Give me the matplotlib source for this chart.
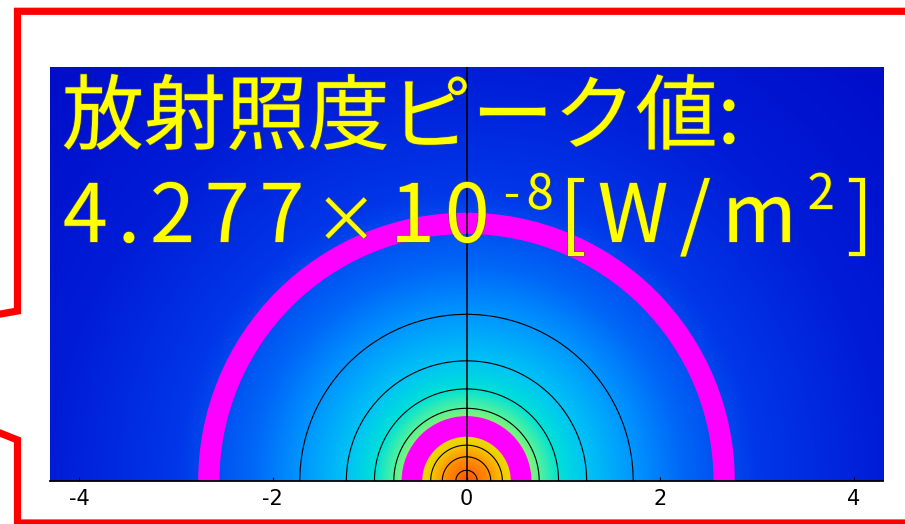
import numpy as np
import matplotlib.pyplot as plt
from matplotlib.colors import LinearSegmentedColormap
from matplotlib.patches import Wedge
from matplotlib.lines import Line2D
import matplotlib.patheffects as pe

W, H = 905, 524

peak = 4.277e-8  # peak irradiance [W/m^2]

# radial irradiance profile (distance from axis, fraction of peak)
prof_r = [0.0, 0.11, 0.25, 0.37, 0.48, 0.60, 0.75, 0.95, 1.24, 1.72, 2.2, 3.0, 4.3, 6.2]
prof_v = [1.0, 0.9, 0.8, 0.7, 0.6, 0.5, 0.4, 0.3, 0.2, 0.1, 0.055, 0.024, 0.0086, 0.003]

# iso-irradiance lines, fraction of peak
contour_levels = [0.1, 0.2, 0.3, 0.4, 0.5, 0.6, 0.7, 0.8, 0.9]

# detector rings: (inner radius, outer radius)
rings = [(0.457, 0.67), (2.55, 2.77)]

xticks = [-4, -2, 0, 2, 4]
title = "放射照度ピーク値:"

# rainbow scale, stops placed on the profile fractions
stops = [
    (0.0, (0, 5, 190)),
    (0.003, (0, 12, 200)),
    (0.0086, (0, 28, 215)),
    (0.024, (0, 55, 232)),
    (0.055, (0, 105, 248)),
    (0.1, (0, 150, 255)),
    (0.2, (0, 195, 245)),
    (0.3, (0, 225, 215)),
    (0.4, (85, 242, 155)),
    (0.5, (165, 245, 85)),
    (0.6, (225, 228, 0)),
    (0.7, (245, 200, 0)),
    (0.8, (255, 150, 0)),
    (0.9, (255, 112, 0)),
    (1.0, (250, 85, 5)),
]
cmap = LinearSegmentedColormap.from_list(
    "irr", [(p, tuple(c / 255 for c in col)) for p, col in stops], N=4096)

fig = plt.figure(figsize=(W / 100, H / 100), dpi=100)
ax = fig.add_axes([50 / W, 43 / H, 833 / W, 414 / H])
xmax = 4.3
ymax = 414 / (833 / (2 * xmax))

x = np.linspace(-xmax, xmax, 1400)
y = np.linspace(0, ymax, 700)
X, Y = np.meshgrid(x, y)
R = np.hypot(X, Y)
E = peak * np.interp(R, prof_r, prof_v)

ax.imshow(E, extent=(-xmax, xmax, 0, ymax), origin="lower", cmap=cmap,
          vmin=0, vmax=peak, aspect="auto", interpolation="bilinear", zorder=1)
ax.contour(X, Y, E, levels=[peak * v for v in contour_levels],
           colors="k", linewidths=0.8, zorder=2)

for r_in, r_out in rings:
    ax.add_patch(Wedge((0, 0), r_out, 0, 180, width=r_out - r_in,
                       facecolor="#ff00ff", edgecolor="none", zorder=3))

ax.axvline(0, color="k", lw=1.1, zorder=4)

ax.set_xlim(-xmax, xmax)
ax.set_ylim(0, ymax)
for s in ("top", "left", "right"):
    ax.spines[s].set_visible(False)
ax.spines["bottom"].set_linewidth(1.3)
ax.spines["bottom"].set_zorder(5)
ax.set_yticks([])
ax.set_xticks(xticks)
ax.set_xticklabels([str(t) for t in xticks],
                   family=["Liberation Sans Narrow", "DejaVu Sans"], fontsize=15)
ax.tick_params(axis="x", direction="in", length=3, width=0.8, pad=6)

# yellow annotation
jp = ["Noto Sans CJK JP", "DejaVu Sans"]
halo = [pe.withStroke(linewidth=1.2, foreground=(0.35, 0.35, 0.25, 0.6))]
yellow = "#ffff00"
fig.text(62 / W, 1 - 143 / H, title, family=jp, fontsize=59, color=yellow,
         va="baseline", ha="left", path_effects=halo, zorder=10)

# value line, laid out glyph by glyph: (text, size, rise px, extra spacing px)
mant, expo = f"{peak:.3e}".split("e")
pieces = [(c, 58, 0, 10) for c in mant]
pieces += [("\u00d7", 46, 0, 12), ("1", 58, 0, 10), ("0", 58, 0, 14)]
pieces += [(c, 35, 33, 6) for c in str(int(expo))]
pieces += [(c, 58, 0, 11) for c in "[W/m"]
pieces += [("2", 35, 33, 12), ("]", 58, 0, 0)]

renderer = fig.canvas.get_renderer()
xp = 63
for s, size, rise, gap in pieces:
    t = fig.text(xp / W, 1 - (242 - rise) / H, s, family=jp, fontsize=size,
                 color=yellow, va="baseline", ha="left",
                 path_effects=halo, zorder=10)
    xp = t.get_window_extent(renderer).x1 + gap

# red callout frame
red = dict(color="#ff0000", lw=5.2, solid_joinstyle="miter",
           solid_capstyle="butt", transform=fig.transFigure, clip_on=False)
upper = [(915, 11.3), (17.5, 11.3), (17.5, 311), (-5, 315)]
lower = [(-5, 431), (17.5, 440), (17.5, 523), (915, 523)]
for pts in (upper, lower):
    fig.add_artist(Line2D([p[0] / W for p in pts], [1 - p[1] / H for p in pts], **red))

fig.savefig("out.png", dpi=100)
